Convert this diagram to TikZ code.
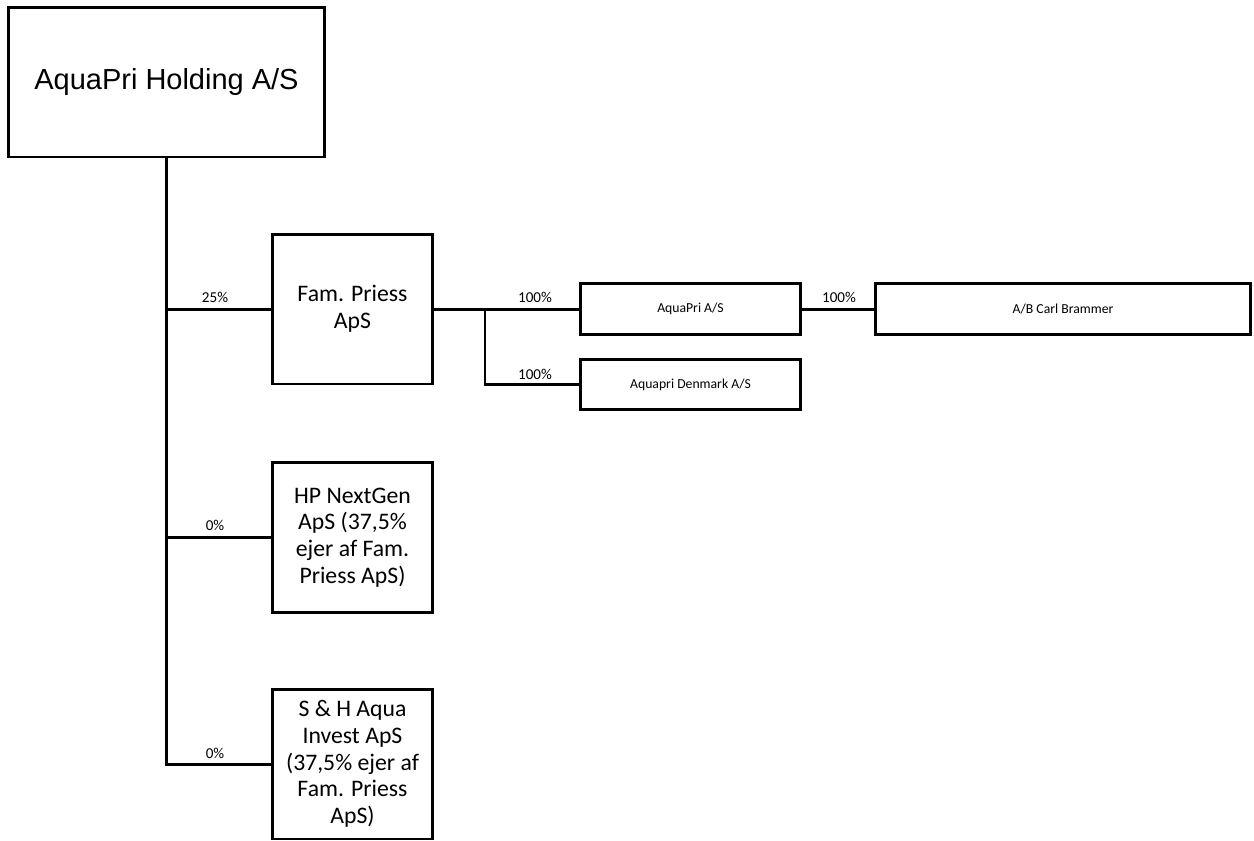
\documentclass[tikz,border=0pt]{standalone}
\usepackage{fontspec}
\setmainfont{Carlito}
\newfontfamily\arialfont{Liberation Sans}
\begin{document}
\begin{tikzpicture}[x=0.02cm, y=-0.02cm]
	\tikzset{box/.style={draw, line width=1.7pt, inner sep=0pt, align=center},
		bigbox/.style={box, minimum width=3.22cm, minimum height=3cm, font=\fontsize{13.5}{15.2}\selectfont},
		smallbox/.style={box, minimum height=1.01cm, font=\fontsize{7.8}{9}\selectfont},
		link/.style={line width=1.7pt},
		pct/.style={font=\fontsize{8.6}{10}\selectfont, inner sep=0pt}}
	\useasboundingbox (0,0) rectangle (1254,840);
	% --- 1. Moderselskab ---
	\node[box, minimum width=6.34cm, minimum height=3cm, font=\arialfont\fontsize{16.5}{20}\selectfont] (holding) at (166.5,82) {AquaPri Holding A/S};
	% --- 2. Ejerselskaber ---
	\node[bigbox] (fam) at (352.5,309) {Fam. Priess\\ApS};
	\node[bigbox] (hp) at (352.5,537.5) {HP NextGen\\ApS (37,5\%\\ejer af Fam.\\Priess ApS)};
	\node[bigbox] (sh) at (352.5,764) {S \& H Aqua\\Invest ApS\\(37,5\% ejer af\\Fam. Priess\\ApS)};
	% --- 3. Datterselskaber ---
	\node[smallbox, minimum width=4.42cm] (aquapri) at (690.5,309) {AquaPri A/S};
	\node[smallbox, minimum width=4.42cm] (denmark) at (690.5,384.5) {Aquapri Denmark A/S};
	\node[smallbox, minimum width=7.52cm] (brammer) at (1063,309) {A/B Carl Brammer};
	% --- 4. Forbindelser ---
	\draw[link] (holding.south) -- (holding.south |- sh.west) -- (sh.west);
	\draw[link] (holding.south |- fam.west) -- (fam.west);
	\draw[link] (holding.south |- hp.west) -- (hp.west);
	\coordinate (split) at (485,309);
	\draw[link] (fam.east) -- (aquapri.west);
	\draw[link] (split) |- (denmark.west);
	\draw[link] (aquapri.east) -- (brammer.west);
	% --- 5. Ejerandele ---
	\node[pct] (p1) at (215,297) {25\%};
	\node[pct] (p2) at (215,525) {0\%};
	\node[pct] (p3) at (215,753) {0\%};
	\node[pct] (p4) at (535,297) {100\%};
	\node[pct] (p5) at (535,374) {100\%};
	\node[pct] (p6) at (839,297) {100\%};
\end{tikzpicture}
\end{document}
